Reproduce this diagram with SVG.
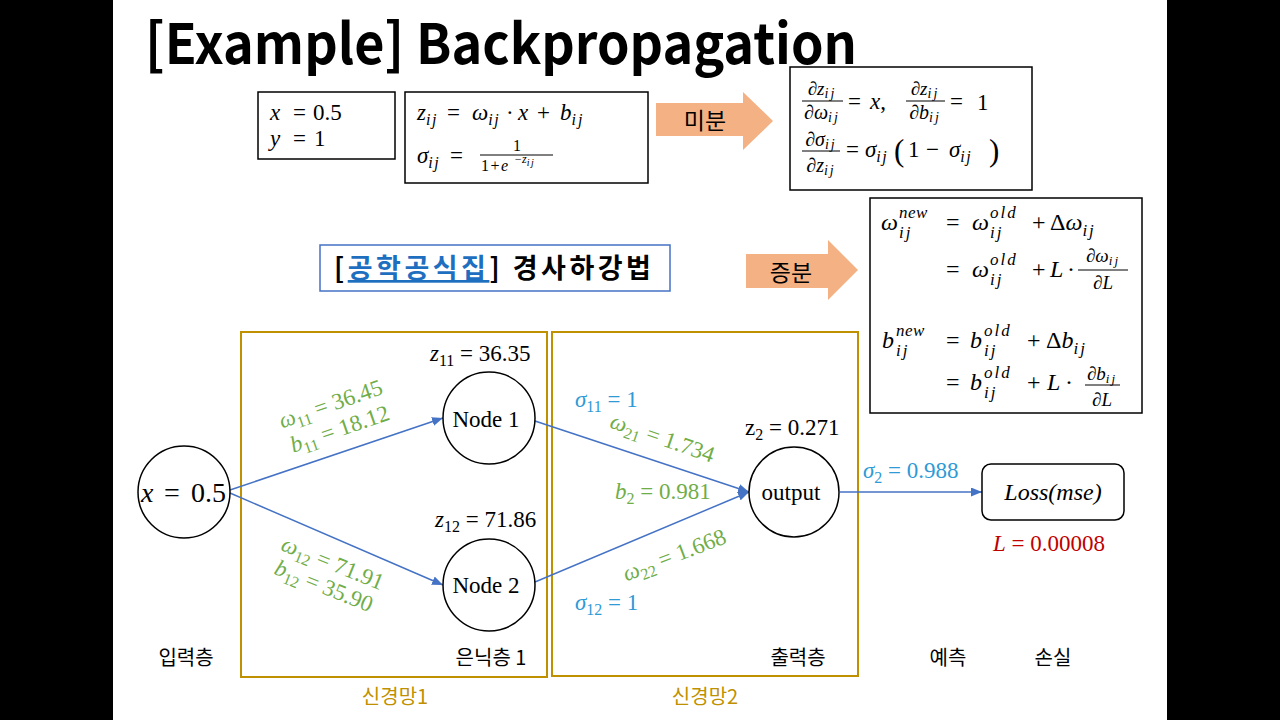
<svg xmlns="http://www.w3.org/2000/svg" width="1280" height="720" viewBox="0 0 1280 720">
<style>
.m{font-family:"Liberation Serif","DejaVu Serif",serif;fill:#000}
.i{font-style:italic}
.ko{font-family:"Noto Sans CJK KR","Noto Sans",sans-serif;fill:#000}
.g{font-family:"Liberation Serif","DejaVu Serif",serif;font-size:23px;fill:#70AD47}
.b{font-family:"Liberation Serif","DejaVu Serif",serif;font-size:23px;fill:#2E9AD6}
.box{fill:#fff;stroke:#000;stroke-width:1.5}
.gold{fill:none;stroke:#BF9000;stroke-width:2}
.node{fill:#fff;stroke:#000;stroke-width:1.5}
.edge{fill:none;stroke:#4472C4;stroke-width:1.5}
.bar{stroke:#000;stroke-width:1}
.peach{fill:#F4B183}
</style>
<defs>
<marker id="ah" markerUnits="userSpaceOnUse" markerWidth="11" markerHeight="9" refX="11" refY="4.5" orient="auto">
<path d="M0,0 L11,4.5 L0,9 z" fill="#4472C4"/>
</marker>
</defs>
<rect x="0" y="0" width="1280" height="720" fill="#000"/>
<rect x="113" y="0" width="1054" height="720" fill="#fff"/>

<text id="title" x="145" y="64" font-family="Noto Sans CJK KR, Noto Sans, sans-serif" font-weight="700" font-size="56" textLength="712" lengthAdjust="spacingAndGlyphs">[Example] Backpropagation</text>

<g id="given">
<rect class="box" x="258" y="92" width="137" height="67"/>
<text class="m i" font-size="23" x="270" y="120">x</text>
<text class="m" font-size="23" x="293" y="120">=</text>
<text class="m" font-size="23" x="313" y="120">0.5</text>
<text class="m i" font-size="23" x="270" y="146">y</text>
<text class="m" font-size="23" x="293" y="146">=</text>
<text class="m" font-size="23" x="314" y="146">1</text>
</g>

<g id="forward">
<rect class="box" x="405" y="92" width="243" height="91"/>
<text class="m" font-size="23" x="417" y="120"><tspan class="i">z</tspan><tspan class="i" font-size="16" dy="5" letter-spacing="1.5">ij</tspan><tspan dy="-5" x="447">=</tspan><tspan class="i" x="472">ω</tspan><tspan class="i" font-size="16" dy="5" letter-spacing="1.5">ij</tspan><tspan dy="-5" x="506">·</tspan><tspan class="i" x="518">x</tspan><tspan x="537">+</tspan><tspan class="i" x="560">b</tspan><tspan class="i" font-size="16" dy="5" letter-spacing="2">ij</tspan></text>
<text class="m" font-size="23" x="417" y="163"><tspan class="i">σ</tspan><tspan class="i" font-size="16" dy="5" letter-spacing="1.5">ij</tspan><tspan dy="-5" x="450">=</tspan></text>
<text class="m" font-size="16" x="517" y="151" text-anchor="middle">1</text>
<line class="bar" x1="480" y1="155" x2="553" y2="155"/>
<text class="m" font-size="16" x="481" y="171" letter-spacing="1.5">1+<tspan class="i">e</tspan></text>
<text class="m i" font-size="12" x="514" y="163">−z<tspan font-size="10" dy="3" letter-spacing="1.5">ij</tspan></text>
</g>

<g id="arrow-diff">
<polygon class="peach" points="656,103 743,103 743,92 773,121 743,150 743,136 656,136"/>
<text class="ko" font-size="23" x="705" y="129" text-anchor="middle">미분</text>
</g>

<g id="derivs">
<rect class="box" x="790" y="67" width="242" height="123"/>
<text class="m" font-size="19" x="822" y="95" text-anchor="middle">∂<tspan class="i">z</tspan><tspan class="i" font-size="14" dy="3" letter-spacing="2">ij</tspan></text>
<line class="bar" x1="802" y1="101" x2="843" y2="101"/>
<text class="m" font-size="20" x="822" y="119" text-anchor="middle">∂<tspan class="i">ω</tspan><tspan class="i" font-size="14" dy="3" letter-spacing="2">ij</tspan></text>
<text class="m" font-size="23" x="848" y="109">=</text>
<text class="m" font-size="23" x="870" y="109"><tspan class="i">x</tspan>,</text>
<text class="m" font-size="19" x="925" y="95" text-anchor="middle">∂<tspan class="i">z</tspan><tspan class="i" font-size="14" dy="3" letter-spacing="2">ij</tspan></text>
<line class="bar" x1="906" y1="101" x2="945" y2="101"/>
<text class="m" font-size="20" x="925" y="119" text-anchor="middle">∂<tspan class="i">b</tspan><tspan class="i" font-size="14" dy="3" letter-spacing="2">ij</tspan></text>
<text class="m" font-size="23" x="950" y="109">=</text>
<text class="m" font-size="23" x="977" y="110">1</text>
<text class="m" font-size="20" x="821" y="146" text-anchor="middle">∂<tspan class="i">σ</tspan><tspan class="i" font-size="14" dy="3" letter-spacing="2">ij</tspan></text>
<line class="bar" x1="802" y1="151" x2="840" y2="151"/>
<text class="m" font-size="20" x="821" y="172" text-anchor="middle">∂<tspan class="i">z</tspan><tspan class="i" font-size="14" dy="3" letter-spacing="2">ij</tspan></text>
<text class="m" font-size="23" x="846" y="157">=</text>
<text class="m" font-size="23" x="865" y="157"><tspan class="i">σ</tspan><tspan class="i" font-size="16" dy="5" letter-spacing="1.5">ij</tspan></text>
<text class="m" font-size="31" x="894" y="161">(</text>
<text class="m" font-size="23" x="908" y="157">1</text>
<text class="m" font-size="23" x="926" y="157">−</text>
<text class="m" font-size="23" x="949" y="157"><tspan class="i">σ</tspan><tspan class="i" font-size="16" dy="5" letter-spacing="1.5">ij</tspan></text>
<text class="m" font-size="31" x="989" y="161">)</text>
</g>

<g id="gd-link">
<rect x="320" y="245" width="350" height="46" fill="#fff" stroke="#4472C4" stroke-width="1.5"/>
<text class="ko" font-size="27" font-weight="700" x="334" y="278" letter-spacing="3.5">[<tspan fill="#1F6FC1" text-decoration="underline">공학공식집</tspan>] 경사하강법</text>
</g>

<g id="arrow-incr">
<polygon class="peach" points="746,254 828,254 828,240 858,270 828,300 828,288 746,288"/>
<text class="ko" font-size="23" x="791" y="281" text-anchor="middle">증분</text>
</g>

<g id="update">
<rect class="box" x="870" y="198" width="272" height="215"/>
<text class="m i" font-size="24" x="881" y="230">ω</text>
<text class="m i" font-size="17" x="899" y="218" letter-spacing="0.5">new</text>
<text class="m i" font-size="17" x="899" y="238" letter-spacing="2">ij</text>
<text class="m" font-size="24" x="946" y="230">=</text>
<text class="m i" font-size="24" x="972" y="230">ω</text>
<text class="m i" font-size="17" x="990" y="218" letter-spacing="2">old</text>
<text class="m i" font-size="17" x="990" y="238" letter-spacing="2">ij</text>
<text class="m" font-size="24" x="1032" y="230">+</text>
<text class="m" font-size="24" x="1050" y="230">Δ<tspan class="i">ω</tspan><tspan class="i" font-size="17" dy="6" letter-spacing="2">ij</tspan></text>

<text class="m" font-size="24" x="946" y="277">=</text>
<text class="m i" font-size="24" x="972" y="277">ω</text>
<text class="m i" font-size="17" x="990" y="265" letter-spacing="2">old</text>
<text class="m i" font-size="17" x="990" y="285" letter-spacing="2">ij</text>
<text class="m" font-size="24" x="1032" y="277">+</text>
<text class="m i" font-size="24" x="1050" y="277">L</text>
<text class="m" font-size="24" x="1067" y="277">·</text>
<text class="m" font-size="19" x="1103" y="262" text-anchor="middle">∂<tspan class="i">ω</tspan><tspan class="i" font-size="13" dy="3" letter-spacing="2">ij</tspan></text>
<line class="bar" x1="1078" y1="270" x2="1128" y2="270"/>
<text class="m" font-size="19" x="1103" y="289" text-anchor="middle">∂<tspan class="i">L</tspan></text>

<text class="m i" font-size="24" x="882" y="348">b</text>
<text class="m i" font-size="17" x="896" y="336" letter-spacing="0.5">new</text>
<text class="m i" font-size="17" x="896" y="356" letter-spacing="2">ij</text>
<text class="m" font-size="24" x="946" y="348">=</text>
<text class="m i" font-size="24" x="970" y="348">b</text>
<text class="m i" font-size="17" x="984" y="336" letter-spacing="2">old</text>
<text class="m i" font-size="17" x="984" y="356" letter-spacing="2">ij</text>
<text class="m" font-size="24" x="1027" y="348">+</text>
<text class="m" font-size="24" x="1046" y="348">Δ<tspan class="i">b</tspan><tspan class="i" font-size="17" dy="6" letter-spacing="2">ij</tspan></text>

<text class="m" font-size="24" x="946" y="390">=</text>
<text class="m i" font-size="24" x="970" y="390">b</text>
<text class="m i" font-size="17" x="984" y="378" letter-spacing="2">old</text>
<text class="m i" font-size="17" x="984" y="398" letter-spacing="2">ij</text>
<text class="m" font-size="24" x="1027" y="390">+</text>
<text class="m i" font-size="24" x="1047" y="390">L</text>
<text class="m" font-size="24" x="1065" y="390">·</text>
<text class="m" font-size="19" x="1102" y="380" text-anchor="middle">∂<tspan class="i">b</tspan><tspan class="i" font-size="13" dy="3" letter-spacing="2">ij</tspan></text>
<line class="bar" x1="1085" y1="385" x2="1120" y2="385"/>
<text class="m" font-size="19" x="1102" y="406" text-anchor="middle">∂<tspan class="i">L</tspan></text>
</g>

<g id="net1-frame">
<rect class="gold" x="241" y="332" width="306" height="345"/>
<text class="ko" font-size="20" style="fill:#BF9000" x="395" y="704" text-anchor="middle">신경망1</text>
</g>
<g id="net2-frame">
<rect class="gold" x="552" y="332" width="306" height="344"/>
<text class="ko" font-size="20" style="fill:#BF9000" x="705" y="704" text-anchor="middle">신경망2</text>
</g>

<g id="connectors">
<line class="edge" x1="230" y1="490" x2="443" y2="418" marker-end="url(#ah)"/>
<line class="edge" x1="230" y1="493" x2="443" y2="585" marker-end="url(#ah)"/>
<line class="edge" x1="535" y1="421" x2="749" y2="492" marker-end="url(#ah)"/>
<line class="edge" x1="535" y1="582" x2="749" y2="492" marker-end="url(#ah)"/>
<line class="edge" x1="840" y1="492" x2="982" y2="492" marker-end="url(#ah)"/>
</g>

<g id="edge-labels">
<text class="g" transform="translate(333,411) rotate(-19)" text-anchor="middle"><tspan class="i">ω</tspan><tspan font-size="16" dy="5">11</tspan><tspan dy="-5"> = 36.45</tspan></text>
<text class="g" transform="translate(342,436) rotate(-19)" text-anchor="middle"><tspan class="i">b</tspan><tspan font-size="16" dy="5">11</tspan><tspan dy="-5"> = 18.12</tspan></text>
<text class="g" transform="translate(330,570) rotate(22)" text-anchor="middle"><tspan class="i">ω</tspan><tspan font-size="16" dy="5">12</tspan><tspan dy="-5"> = 71.91</tspan></text>
<text class="g" transform="translate(321,593) rotate(22)" text-anchor="middle"><tspan class="i">b</tspan><tspan font-size="16" dy="5">12</tspan><tspan dy="-5"> = 35.90</tspan></text>
<text class="g" transform="translate(660,445) rotate(19)" text-anchor="middle"><tspan class="i">ω</tspan><tspan font-size="16" dy="5">21</tspan><tspan dy="-5"> = 1.734</tspan></text>
<text class="g" transform="translate(677,562) rotate(-21)" text-anchor="middle"><tspan class="i">ω</tspan><tspan font-size="16" dy="5">22</tspan><tspan dy="-5"> = 1.668</tspan></text>
<text class="g" x="615" y="499"><tspan class="i">b</tspan><tspan font-size="16" dy="5">2</tspan><tspan dy="-5"> = 0.981</tspan></text>
<text class="b" x="575" y="407"><tspan class="i">σ</tspan><tspan font-size="16" dy="5">11</tspan><tspan dy="-5"> = 1</tspan></text>
<text class="b" x="575" y="610"><tspan class="i">σ</tspan><tspan font-size="16" dy="5">12</tspan><tspan dy="-5"> = 1</tspan></text>
<text class="b" x="863" y="478"><tspan class="i">σ</tspan><tspan font-size="16" dy="5">2</tspan><tspan dy="-5"> = 0.988</tspan></text>
</g>

<g id="input">
<circle class="node" cx="184" cy="492" r="46"/>
<text class="m i" font-size="28" x="141" y="502">x</text>
<text class="m" font-size="28" x="164" y="502">=</text>
<text class="m" font-size="28" x="191" y="502">0.5</text>
</g>

<g id="node1">
<circle class="node" cx="489" cy="418" r="46"/>
<text class="m" font-size="23" x="486" y="427" text-anchor="middle">Node 1</text>
<text class="m" font-size="23" x="430" y="361"><tspan class="i">z</tspan><tspan font-size="16" dy="5">11</tspan><tspan dy="-5"> = 36.35</tspan></text>
</g>

<g id="node2">
<circle class="node" cx="489" cy="585" r="46"/>
<text class="m" font-size="23" x="486" y="593" text-anchor="middle">Node 2</text>
<text class="m" font-size="23" x="435" y="527"><tspan class="i">z</tspan><tspan font-size="16" dy="5">12</tspan><tspan dy="-5"> = 71.86</tspan></text>
</g>

<g id="output">
<circle class="node" cx="794" cy="492" r="45"/>
<text class="m" font-size="23" x="791" y="500" text-anchor="middle">output</text>
<text class="m" font-size="23" x="745" y="435">z<tspan font-size="16" dy="5">2</tspan><tspan dy="-5"> = 0.271</tspan></text>
</g>

<g id="loss">
<rect x="982" y="464" width="142" height="56" rx="9" fill="#fff" stroke="#000" stroke-width="1.5"/>
<text class="m i" font-size="24" x="1053" y="500" text-anchor="middle">Loss(mse)</text>
<text class="m" font-size="23" x="993" y="551" style="fill:#C00000"><tspan class="i">L</tspan> = 0.00008</text>
</g>

<g id="layer-labels">
<text class="ko" font-size="20" x="186" y="665" text-anchor="middle">입력층</text>
<text class="ko" font-size="20" x="491" y="665" text-anchor="middle">은닉층 1</text>
<text class="ko" font-size="20" x="798" y="665" text-anchor="middle">출력층</text>
<text class="ko" font-size="20" x="948" y="665" text-anchor="middle">예측</text>
<text class="ko" font-size="20" x="1053" y="665" text-anchor="middle">손실</text>
</g>
</svg>
